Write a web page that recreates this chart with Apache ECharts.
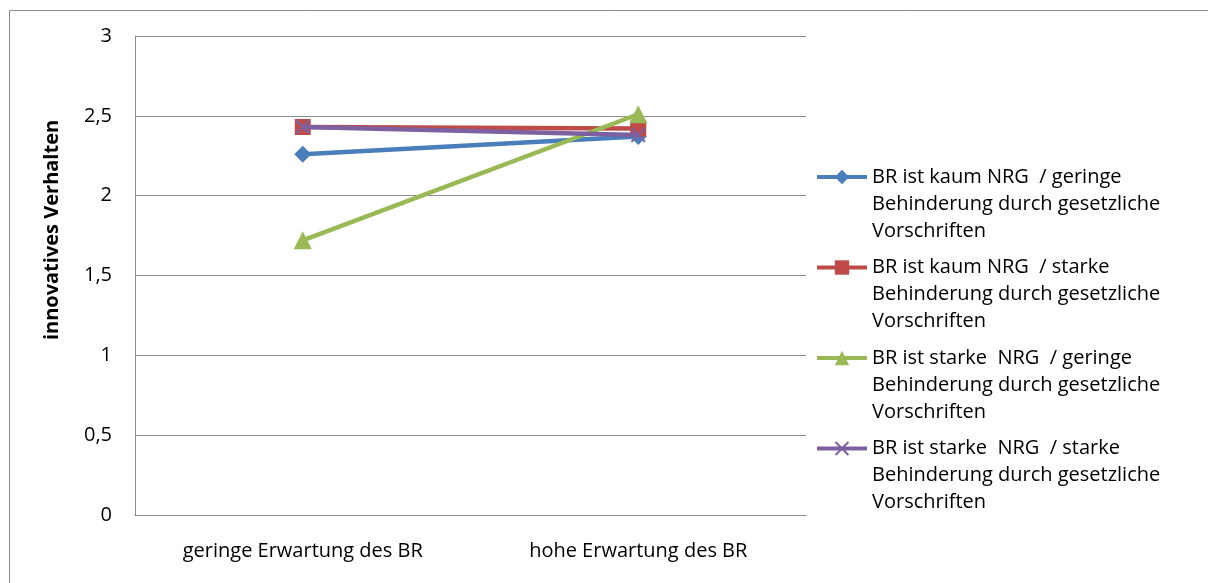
<!DOCTYPE html>
<html>
<head>
<meta charset="utf-8">
<script src="https://cdn.jsdelivr.net/npm/echarts@6/dist/echarts.min.js"></script>
<style>
html,body{margin:0;padding:0;background:#fff;}
#c{width:1208px;height:583px;}
</style>
</head>
<body>
<div id="c"></div>
<script>
var categories = ['geringe Erwartung des BR', 'hohe Erwartung des BR'];
var seriesNames = [
  'BR ist kaum NRG  / geringe\nBehinderung durch gesetzliche\nVorschriften',
  'BR ist kaum NRG  / starke\nBehinderung durch gesetzliche\nVorschriften',
  'BR ist starke  NRG  / geringe\nBehinderung durch gesetzliche\nVorschriften',
  'BR ist starke  NRG  / starke\nBehinderung durch gesetzliche\nVorschriften'
];
var kaumGeringe = [2.26, 2.37];
var kaumStarke = [2.43, 2.42];
var starkeGeringe = [1.72, 2.51];
var starkeStarke = [2.43, 2.38];
var yTicks = [0, 0.5, 1, 1.5, 2, 2.5, 3];
var yAxisTitle = 'innovatives Verhalten';

var FONT = 'Open Sans';
var colors = ['#4A7EBB', '#BE4B48', '#98B954', '#7D60A0'];
var symbols = ['diamond', 'rect', 'triangle',
  'path://M0,1 L1,0 L5,4 L9,0 L10,1 L6,5 L10,9 L9,10 L5,6 L1,10 L0,9 L4,5 Z'];
var symbolSizes = [17, 16, 18, 15];
var dataSets = [kaumGeringe, kaumStarke, starkeGeringe, starkeStarke];

var chart = echarts.init(document.getElementById('c'), null, {renderer: 'canvas'});
var series = dataSets.map(function (d, i) {
  return {
    name: seriesNames[i],
    type: 'line',
    data: d,
    symbol: symbols[i],
    symbolSize: symbolSizes[i],
    showAllSymbol: true,
    lineStyle: {color: colors[i], width: 4.5},
    itemStyle: {color: colors[i]},
    emphasis: {disabled: true},
    animation: false,
    z: 2 + i
  };
});

chart.setOption({
  animation: false,
  color: colors,
  textStyle: {fontFamily: FONT},
  grid: {left: 135, right: 402, top: 36, bottom: 68, containLabel: false},
  xAxis: {
    type: 'category',
    data: categories,
    boundaryGap: true,
    axisLine: {show: true, lineStyle: {color: '#8c8c8c', width: 1}},
    axisTick: {show: false},
    axisLabel: {color: '#000', fontFamily: FONT, fontSize: 20, margin: 26}
  },
  yAxis: {
    type: 'value',
    min: yTicks[0],
    max: yTicks[yTicks.length - 1],
    interval: 0.5,
    axisLine: {show: true, lineStyle: {color: '#8c8c8c', width: 1}},
    axisTick: {show: false},
    splitLine: {show: true, lineStyle: {color: '#8c8c8c', width: 1}},
    axisLabel: {
      color: '#000', fontFamily: FONT, fontSize: 20, margin: 23,
      formatter: function (v) { return String(v).replace('.', ','); }
    }
  },
  legend: {
    orient: 'vertical',
    left: 815,
    top: 109.5,
    padding: 0,
    itemWidth: 50,
    itemHeight: 18,
    itemGap: -44.5,
    selectedMode: false,
    data: seriesNames,
    lineStyle: {width: 4},
    formatter: function (name) { return '\n\n' + name; },
    textStyle: {
      color: '#000', fontFamily: FONT, fontSize: 20, lineHeight: 27
    }
  },
  graphic: [
    {
      type: 'rect', silent: true,
      shape: {x: 9.5, y: 10.5, width: 1300, height: 700},
      style: {fill: 'none', stroke: '#8c8c8c', lineWidth: 1}
    },
    {
      type: 'text', silent: true,
      x: 52, y: 230, rotation: Math.PI / 2,
      style: {
        text: yAxisTitle, fontFamily: FONT, fontSize: 20, fontWeight: 'bold',
        fill: '#000', align: 'center', verticalAlign: 'middle'
      }
    }
  ],
  series: series
});
</script>
</body>
</html>
